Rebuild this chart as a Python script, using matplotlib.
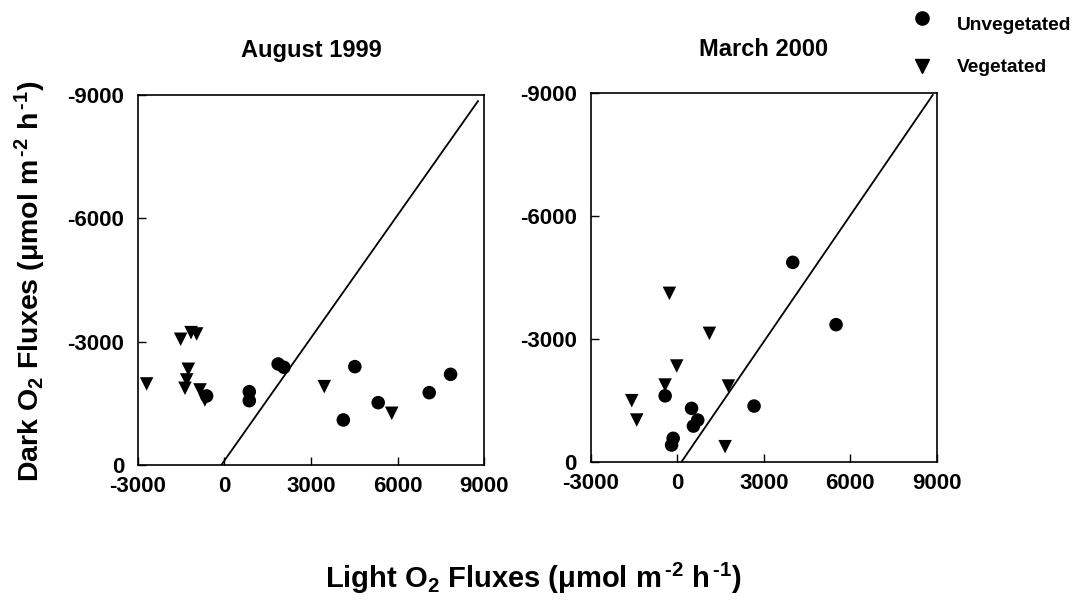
import matplotlib
matplotlib.use("Agg")
import matplotlib.pyplot as plt
from matplotlib.lines import Line2D

plt.rcParams["font.family"] = ["Liberation Sans", "DejaVu Sans"]
plt.rcParams["font.weight"] = "bold"
plt.rcParams["mathtext.fontset"] = "custom"
plt.rcParams["mathtext.rm"] = "Liberation Sans:bold"
plt.rcParams["mathtext.it"] = "Liberation Sans:bold"
plt.rcParams["mathtext.bf"] = "Liberation Sans:bold"
plt.rcParams["mathtext.default"] = "rm"
plt.rcParams["axes.unicode_minus"] = False

# August 1999
aug_unveg_light = [860, 860, 1860, 2060, 4520, 4120, 5330, 7100, 7840, -620]
aug_unveg_dark = [-1783, -1564, -2457, -2376, -2392, -1095, -1516, -1759, -2205, -1679]
aug_veg_light = [-2700, -1520, -1160, -965, -1255, -1310, -1370, -850, -680, 3460, 5800]
aug_veg_dark = [-1971, -3058, -3219, -3187, -2328, -2068, -1866, -1825, -1581, -1905, -1257]
aug_line_light = [-110, 8790]
aug_line_dark = [0, -8850]

# March 2000
mar_unveg_light = [4005, 5508, 2664, -420, 496, 710, 561, -141, -196]
mar_unveg_dark = [-4871, -3348, -1360, -1610, -1304, -1018, -871, -572, -408]
mar_veg_light = [-272, 1115, -18, -422, 1774, -1578, -1405, 1659]
mar_veg_dark = [-4113, -3136, -2338, -1873, -1849, -1491, -1018, -367]
mar_line_light = [150, 8860]
mar_line_dark = [0, -8960]

ticks = [-3000, 0, 3000, 6000, 9000]
yticks = [0, -3000, -6000, -9000]
legend_labels = ["Unvegetated", "Vegetated"]

fig = plt.figure(figsize=(10.78, 6.14), dpi=100)
ax1 = fig.add_axes([0.128, 0.2427, 0.321, 0.6026])
ax2 = fig.add_axes([0.548, 0.248, 0.321, 0.600])

panels = [
    (ax1, "August 1999", aug_unveg_light, aug_unveg_dark, aug_veg_light, aug_veg_dark,
     aug_line_light, aug_line_dark),
    (ax2, "March 2000", mar_unveg_light, mar_unveg_dark, mar_veg_light, mar_veg_dark,
     mar_line_light, mar_line_dark),
]

for ax, title, ul, ud, vl, vd, ll, ld in panels:
    ax.plot(ll, ld, color="black", lw=1.3, zorder=2)
    ax.scatter(vl, vd, marker="v", s=95, color="black", edgecolors="none", zorder=3)
    ax.scatter(ul, ud, marker="o", s=95, color="black", edgecolors="none", zorder=3)
    ax.set_xlim(-3000, 9000)
    ax.set_ylim(0, -9000)
    ax.set_xticks(ticks)
    ax.set_yticks(yticks)
    ax.set_xticklabels([str(t) for t in ticks])
    ax.set_yticklabels([str(t) for t in yticks])
    ax.tick_params(direction="in", length=6, width=1.0, labelsize=16)
    ax.tick_params(axis="y", pad=10)
    ax.tick_params(axis="x", pad=8)
    for lab in ax.get_xticklabels() + ax.get_yticklabels():
        lab.set_fontweight("bold")
    for sp in ax.spines.values():
        sp.set_linewidth(1.2)
    ax.set_title(title, fontsize=17, fontweight="bold", pad=27)

unit = r"($\mu$mol m$^{\,\text{-}2}$ h$^{\,\text{-}1}$)"
fig.text(0.028, 0.542, r"Dark O$_2$ Fluxes " + unit,
         rotation=90, ha="center", va="center", fontsize=20.5, fontweight="bold")
fig.text(0.4944, 0.058, r"Light O$_2$ Fluxes " + unit,
         ha="center", va="center", fontsize=21, fontweight="bold")

# legend drawn in figure coordinates
W, H = fig.get_size_inches() * fig.dpi
legend_rows = [("o", 18, 25), ("v", 66, 67)]
for (mk, my, ty), text in zip(legend_rows, legend_labels):
    fig.add_artist(Line2D([922 / W], [1 - my / H], transform=fig.transFigure,
                          marker=mk, ls="none", color="black", markersize=9.5))
    fig.text(957 / W, 1 - ty / H, text, ha="left", va="center",
             fontsize=13.8, fontweight="bold")

fig.savefig("out.png", dpi=100)
